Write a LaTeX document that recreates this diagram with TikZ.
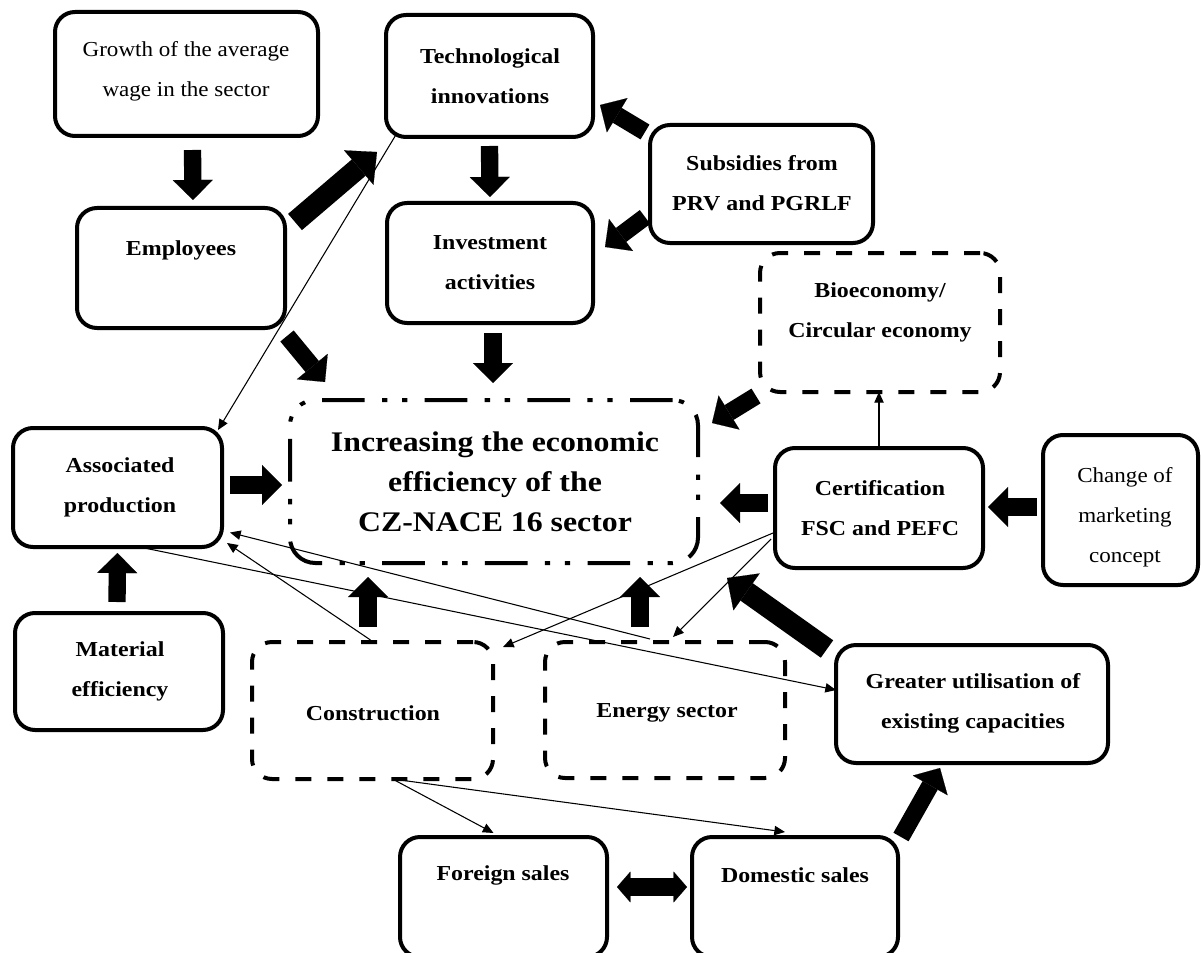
\documentclass[tikz,border=0pt]{standalone}
\usepackage{fontspec}
\setmainfont{Liberation Serif}[FakeStretch=1.08, BoldFeatures={FakeStretch=1.12}]
\usetikzlibrary{arrows.meta,calc}
\tikzset{
  box/.style={draw, line width=3pt, rounded corners=15pt, inner sep=0pt, outer sep=0pt},
  dbox/.style={box, dash pattern=on 12pt off 12pt},
  cbox/.style={box, rounded corners=19pt, dash pattern=on 32pt off 13pt on 4pt off 11pt on 4pt off 13pt},
  txt/.style={align=center, inner sep=0pt, font=\fontsize{16}{30}\selectfont\bfseries},
  ntxt/.style={align=center, inner sep=0pt, font=\fontsize{16}{30}\selectfont},
  ctxt/.style={align=center, inner sep=0pt, font=\fontsize{21.3}{30}\selectfont\bfseries},
  blk/.style={line width=13pt, -{Triangle[width=30pt,length=15pt,line width=0.1pt]}},
  blkw/.style={line width=16pt, -{Triangle[width=34pt,length=18pt,line width=0.1pt]}},
  dblk/.style={line width=13pt, {Triangle[width=23pt,length=10pt,line width=0.1pt]}-{Triangle[width=23pt,length=10pt,line width=0.1pt]}},
  thin/.style={line width=0.8pt, -{Triangle[width=7pt,length=8pt]}},
}
\begin{document}
\begin{tikzpicture}[x=0.75pt,y=-0.75pt]
\useasboundingbox (0,0) rectangle (1201,952);
\fill[white] (0,0) rectangle (1201,952);
\clip (0,0) rectangle (1201,952);

% boxes
\node[box, minimum width={263*0.75pt}, minimum height={124*0.75pt}] (growth) at (186.5,74) {};
\node[box, minimum width={208*0.75pt}, minimum height={120*0.75pt}] (emp) at (181,268) {};
\node[box, minimum width={207*0.75pt}, minimum height={122*0.75pt}] (tech) at (489.5,76) {};
\node[box, minimum width={206*0.75pt}, minimum height={120*0.75pt}] (inv) at (490,263) {};
\node[box, minimum width={223*0.75pt}, minimum height={118*0.75pt}] (subs) at (761.5,184) {};
\node[dbox, minimum width={240*0.75pt}, minimum height={139*0.75pt}] (bio) at (880,322.5) {};
\node[box, minimum width={208*0.75pt}, minimum height={120*0.75pt}] (cert) at (879,508) {};
\node[box, minimum width={155*0.75pt}, minimum height={150*0.75pt}] (change) at (1120.5,510) {};
\node[cbox, minimum width={408*0.75pt}, minimum height={163*0.75pt}] (central) at (494,481.5) {};
\node[box, minimum width={209*0.75pt}, minimum height={119*0.75pt}] (assoc) at (117.5,487.5) {};
\node[box, minimum width={208*0.75pt}, minimum height={117*0.75pt}] (mat) at (119,671.5) {};
\node[dbox, minimum width={241*0.75pt}, minimum height={137*0.75pt}] (cons) at (372.5,710.5) {};
\node[dbox, minimum width={240*0.75pt}, minimum height={136*0.75pt}] (energy) at (665,710) {};
\node[box, minimum width={272*0.75pt}, minimum height={118*0.75pt}] (greater) at (972,704) {};
\node[box, minimum width={207*0.75pt}, minimum height={120*0.75pt}] (foreign) at (503.5,897) {};
\node[box, minimum width={206*0.75pt}, minimum height={120*0.75pt}] (domestic) at (795,897) {};

% texts
\node[ntxt] (growth-t) at (186,71) {Growth of the average\\wage in the sector};
\node[txt] (emp-t) at (181,250) {Employees};
\node[txt] (tech-t) at (490,76) {Technological\\innovations};
\node[txt] (inv-t) at (490,263) {Investment\\activities};
\node[txt] (subs-t) at (762,183) {Subsidies from\\PRV and PGRLF};
\node[txt] (bio-t) at (880,312) {Bioeconomy/\\Circular economy};
\node[txt] (cert-t) at (880,508) {Certification\\FSC and PEFC};
\node[ntxt] (change-t) at (1125,517) {Change of\\marketing\\concept};
\node[ctxt] (central-t) at (495,482) {Increasing the economic\\efficiency of the\\CZ-NACE 16 sector};
\node[txt] (assoc-t) at (120,487) {Associated\\production};
\node[txt] (mat-t) at (120,671) {Material\\efficiency};
\node[txt] (cons-t) at (373,713) {Construction};
\node[txt] (energy-t) at (667,713) {Energy sector};
\node[txt] (greater-t) at (973,703) {Greater utilisation of\\existing capacities};
\node[txt] (foreign-t) at (503,875) {Foreign sales};
\node[txt] (domestic-t) at (795,875) {Domestic sales};

% thin connectors
\draw[thin] ($(tech.south west)+(11,-4)$) -- ($(assoc.north east)+(-4,2)$);
\draw[thin] (cert.north) -- (cert.north |- bio.south);
\draw[thin] ($(cons.north)+(-2,-2)$) -- ($(assoc.south east)+(5,-4)$);
\draw[thin] ($(energy.north)+(-15,-3)$) -- ($(assoc.east)+(8,45)$);
\draw[thin] ($(assoc.south)+(22,0)$) -- ($(greater.west)+(0,-14)$);
\draw[thin] ($(cert.west)+(-2,25)$) -- ($(cons.north east)+(10,5)$);
\draw[thin] ($(cert.west)+(-4,31)$) -- ($(energy.north)+(8,-5)$);
\draw[thin] ($(cons.south)+(20,0)$) -- ($(foreign.north)+(-10,-4)$);
\draw[thin] ($(cons.south)+(20,0)$) -- ($(domestic.north)+(-10,-5)$);

% block arrows
\draw[blk] ($(growth.south)+(6,14)$) -- ($(emp.north)+(12,-8)$);
\draw[blkw] ($(emp.north east)+(10,14)$) -- ($(tech.south west)+(-9,15)$);
\draw[blk] ($(emp.south east)+(2,8)$) -- ($(central.north west)+(35,-18)$);
\draw[blk] ($(tech.south)+(0,9)$) -- ($(inv.north)+(0,-6)$);
\draw[blk] ($(inv.south)+(3,10)$) -- ($(central.north)+(-1,-17)$);
\draw[blk] ($(subs.north west)+(-5,7)$) -- ($(tech.east)+(7,29)$);
\draw[blk] ($(subs.south west)+(-5,-26)$) -- ($(inv.east)+(12,-16)$);
\draw[blk] ($(bio.south west)+(-4,4)$) -- ($(central.north east)+(14,23)$);
\draw[blk] ($(cert.west)+(-7,-5)$) -- ($(central.east)+(22,21.5)$);
\draw[blk] ($(change.west)+(-6,-3)$) -- ($(cert.east)+(5,-1)$);
\draw[blk] ($(assoc.east)+(8,-2.5)$) -- ($(central.west)+(-8,3.5)$);
\draw[blk] ($(mat.north)+(-2,-11)$) -- ($(assoc.south)+(0,6)$);
\draw[blk] ($(cons.north)+(-4.5,-15)$) -- ($(central.south)+(-126,14)$);
\draw[blk] ($(energy.north)+(-25,-15)$) -- ($(central.south)+(146,14)$);
\draw[blkw] ($(greater.north west)+(-9,4)$) -- ($(central.south east)+(29,15)$);
\draw[blk] ($(domestic.north east)+(3,0)$) -- ($(greater.south)+(-32,5)$);
\draw[dblk] ($(foreign.east)+(10,-10)$) -- ($(domestic.west)+(-5,-10)$);
\end{tikzpicture}
\end{document}
